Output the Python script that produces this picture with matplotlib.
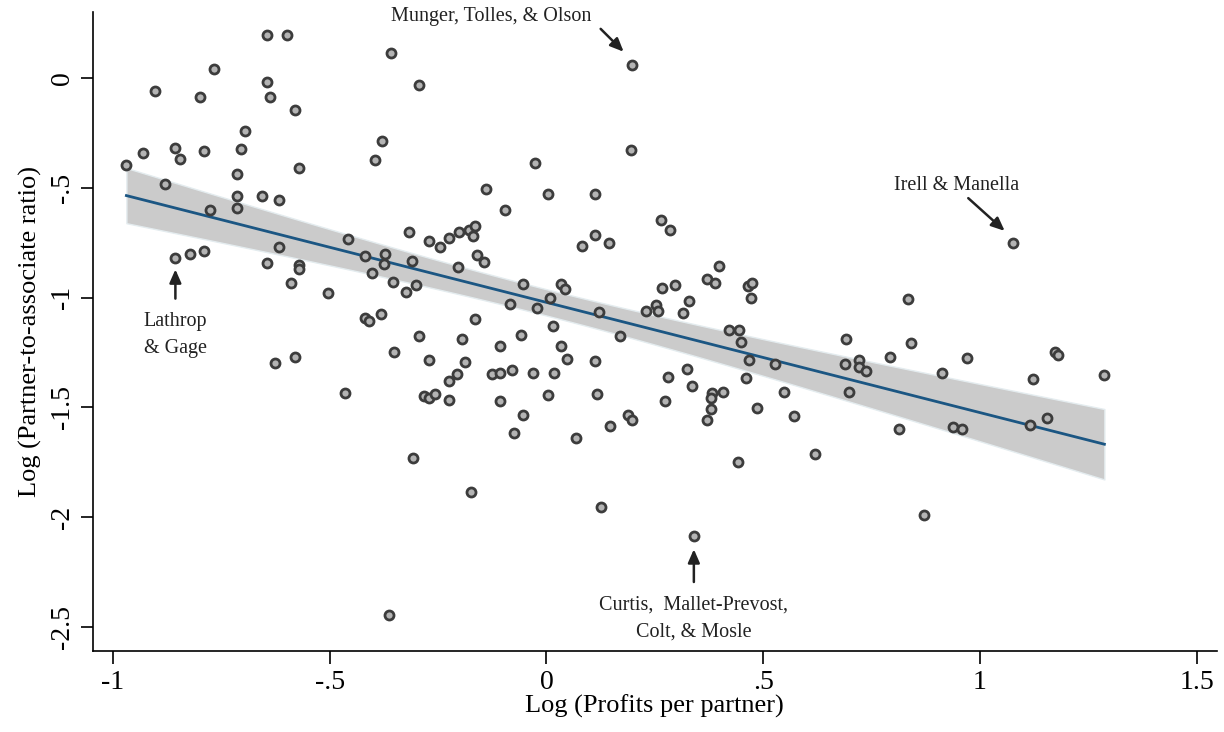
import numpy as np
import matplotlib.pyplot as plt

# log profits per partner
profits = [
    -0.645, -0.599, -0.358, -0.767, -0.904, -0.645, -0.800, -0.637, -0.295, -0.580,
    -0.695, -0.380, -0.395, -0.858, -0.846, -0.789, -0.704, -0.931, -0.969, -0.572,
    -0.715, -0.881, -0.715, -0.656, -0.618, -0.777, -0.715, -0.139, -0.618, -0.457,
    -0.318, -0.272, -0.245, -0.225, -0.201, -0.178, -0.164, -0.170, -0.419, -0.373,
    -0.374, -0.311, -0.205, -0.160, -0.143, -0.402, -0.354, -0.325, -0.302, -0.856,
    -0.822, -0.789, -0.645, -0.572, -0.572, -0.590, -0.504, -0.418, -0.409, -0.381,
    -0.164, -0.026, 0.194, -0.095, 0.004, 0.112, 0.265, 0.284, 0.112, 0.144,
    0.081, -0.053, 0.033, 0.043, 0.009, -0.085, -0.021, 0.122, 0.230, 0.253,
    0.258, 0.314, 0.329, 0.266, 0.296, 0.371, 0.389, 0.399, 0.464, 0.473,
    0.471, 0.014, 0.169, -0.295, -0.194, -0.108, -0.058, 0.033, 0.048, 0.112,
    -0.351, -0.271, -0.188, -0.225, -0.206, -0.125, -0.107, -0.079, -0.032, 0.018,
    -0.464, -0.283, -0.270, -0.257, -0.225, -0.108, 0.004, 0.117, -0.053, -0.074,
    0.067, 0.147, 0.189, 0.198, 0.281, 0.325, 0.336, 0.274, 0.381, 0.379,
    0.407, 0.379, 0.371, 0.422, 0.445, 0.448, 0.468, 0.461, -0.309, -0.175,
    0.441, -0.627, -0.581, -0.364, 1.076, 0.835, 0.528, 0.549, 0.486, 0.572,
    0.690, 0.841, 0.688, 0.720, 0.722, 0.737, 0.793, 0.970, 0.912, 1.172,
    1.179, 1.123, 1.287, 0.697, 0.814, 0.937, 0.958, 1.116, 1.154, 0.198,
    0.619, 0.126, 0.340, 0.871,
]
# log partner-to-associate ratio
ratio = [
    0.196, 0.196, 0.114, 0.039, -0.060, -0.019, -0.089, -0.087, -0.032, -0.149,
    -0.243, -0.288, -0.374, -0.321, -0.370, -0.332, -0.326, -0.344, -0.395, -0.409,
    -0.439, -0.484, -0.540, -0.538, -0.557, -0.602, -0.591, -0.507, -0.771, -0.734,
    -0.700, -0.745, -0.769, -0.730, -0.703, -0.695, -0.673, -0.721, -0.813, -0.802,
    -0.846, -0.833, -0.863, -0.805, -0.838, -0.888, -0.931, -0.974, -0.941, -0.819,
    -0.800, -0.787, -0.843, -0.854, -0.872, -0.933, -0.981, -1.095, -1.107, -1.074,
    -1.098, -0.389, -0.329, -0.600, -0.531, -0.531, -0.647, -0.694, -0.714, -0.752,
    -0.766, -0.937, -0.938, -0.961, -1.003, -1.029, -1.047, -1.067, -1.063, -1.032,
    -1.060, -1.072, -1.014, -0.956, -0.941, -0.917, -0.933, -0.855, -0.946, -0.932,
    -1.000, -1.128, -1.175, -1.176, -1.190, -1.220, -1.171, -1.220, -1.281, -1.288,
    -1.246, -1.286, -1.293, -1.381, -1.348, -1.347, -1.343, -1.330, -1.343, -1.345,
    -1.436, -1.448, -1.457, -1.438, -1.466, -1.471, -1.445, -1.440, -1.535, -1.614,
    -1.637, -1.584, -1.533, -1.555, -1.363, -1.326, -1.404, -1.471, -1.434, -1.457,
    -1.430, -1.505, -1.558, -1.149, -1.146, -1.202, -1.285, -1.368, -1.732, -1.884,
    -1.750, -1.300, -1.270, -2.443, -0.754, -1.005, -1.302, -1.431, -1.502, -1.540,
    -1.190, -1.205, -1.303, -1.285, -1.314, -1.336, -1.270, -1.277, -1.344, -1.246,
    -1.261, -1.370, -1.353, -1.431, -1.600, -1.588, -1.596, -1.582, -1.548, 0.059,
    -1.712, -1.955, -2.087, -1.990,
]

x_ticks = [-1, -0.5, 0, 0.5, 1, 1.5]
x_ticklabels = ['-1', '-.5', '0', '.5', '1', '1.5']
y_ticks = [0, -0.5, -1, -1.5, -2, -2.5]
y_ticklabels = ['0', '-.5', '-1', '-1.5', '-2', '-2.5']

# labelled firms: (name, point, text position, arrow tail, arrow head)
firms = [
    ('Munger, Tolles, & Olson', (0.198, 0.059), (-0.127, 0.276), (0.125, 0.222), (0.178, 0.118)),
    ('Irell & Manella', (1.076, -0.754), (0.946, -0.489), (0.973, -0.548), (1.057, -0.697)),
    ('Lathrop\n& Gage', (-0.856, -0.819), (-0.856, -1.17), (-0.856, -1.005), (-0.856, -0.872)),
    ('Curtis,  Mallet-Prevost,\nColt, & Mosle', (0.340, -2.087), (0.340, -2.46), (0.340, -2.294), (0.340, -2.145)),
]

plt.rcParams['font.family'] = ['Liberation Serif', 'DejaVu Serif']

x = np.array(profits)
y = np.array(ratio)

# linear fit with 95% confidence band
b, a = np.polyfit(x, y, 1)
n = len(x)
resid = y - (a + b * x)
s = np.sqrt(np.sum(resid ** 2) / (n - 2))
xs = np.linspace(x.min(), x.max(), 200)
yfit = a + b * xs
se = s * np.sqrt(1.0 / n + (xs - x.mean()) ** 2 / np.sum((x - x.mean()) ** 2))
tval = 1.973

fig = plt.figure(figsize=(12.24, 7.32), dpi=100)
ax = fig.add_axes([0.076, 0.11, 0.918, 0.874])

ax.fill_between(xs, yfit - tval * se, yfit + tval * se,
                color='#cbcbcb', edgecolor='#e4ecef', linewidth=1, zorder=1)
ax.plot(xs, yfit, color='#1b5683', linewidth=2, zorder=2)
ax.plot(x, y, 'o', markersize=6.5, markerfacecolor='#b4b4b4',
        markeredgecolor='#3c3c3c', markeredgewidth=2.0, zorder=3)

for name, pt, txt, tail, head in firms:
    ax.annotate('', xy=head, xytext=tail,
                arrowprops=dict(arrowstyle='-|>,head_length=0.8,head_width=0.35',
                                color='#222222', lw=1.8, shrinkA=0, shrinkB=0))
    ax.text(txt[0], txt[1], name, ha='center', va='center', fontsize=14.5,
            color='#222222', linespacing=1.6)

ax.set_xlim(-1.046, 1.546)
ax.set_ylim(-2.61, 0.30)
ax.set_xticks(x_ticks)
ax.set_xticklabels(x_ticklabels)
ax.set_yticks(y_ticks)
ax.set_yticklabels(y_ticklabels, rotation=90, va='center')
ax.tick_params(direction='out', length=9, width=1.2, labelsize=20, pad=4)
for side in ['top', 'right']:
    ax.spines[side].set_visible(False)
for side in ['left', 'bottom']:
    ax.spines[side].set_linewidth(1.2)

ax.set_xlabel('Log (Profits per partner)', fontsize=19, labelpad=0)
ax.set_ylabel('Log (Partner-to-associate ratio)', fontsize=19, labelpad=6)

plt.savefig('out.png', dpi=100)
